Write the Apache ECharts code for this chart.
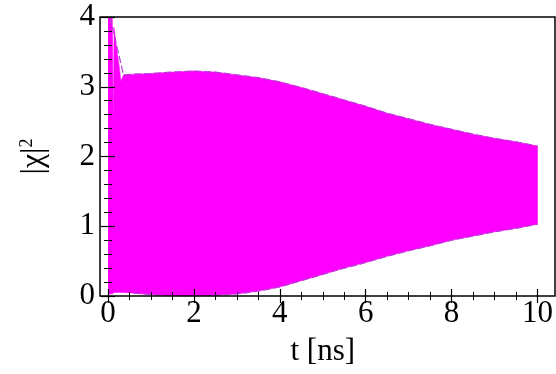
<!DOCTYPE html>
<html>
<head>
<meta charset="utf-8">
<script src="https://cdn.jsdelivr.net/npm/echarts@6/dist/echarts.min.js"></script>
<style>
  html, body { margin: 0; padding: 0; background: #fff; }
  #chart { width: 556px; height: 374px; }
</style>
</head>
<body>
<div id="chart"></div>
<script>
// envelope of the fast oscillation
const time = [0, 0.1, 0.125, 0.14, 0.2, 0.26, 0.3, 0.36, 0.6, 1.0, 1.5, 2.0, 2.5, 3.0, 3.5, 4.0, 4.5, 5.0, 5.5, 6.0, 6.5, 7.0, 7.5, 8.0, 8.5, 9.0, 9.5, 10];
const upper = [4.0, 4.0, 2.45, 3.85, 3.55, 3.3, 3.08, 3.17, 3.18, 3.19, 3.21, 3.225, 3.21, 3.17, 3.13, 3.07, 2.99, 2.9, 2.81, 2.72, 2.62, 2.54, 2.46, 2.39, 2.32, 2.26, 2.21, 2.15];
const lower = [0.03, 0.03, 0.04, 0.05, 0.05, 0.05, 0.05, 0.05, 0.04, 0.02, 0.0, 0.0, 0.01, 0.03, 0.07, 0.13, 0.22, 0.31, 0.4, 0.48, 0.57, 0.65, 0.72, 0.8, 0.86, 0.92, 0.97, 1.03];

// early dashed segment of the upper envelope
const dashTime = [0.05, 0.36];
const dashTop = [4.0, 3.17];

const xTicks = [0, 2, 4, 6, 8, 10];
const yTicks = [0, 1, 2, 3, 4];

const serif = "'Liberation Serif', 'Times New Roman', serif";
const bandColor = "#ff00ff";
const edgeColor = "#b83cd6";

const chart = echarts.init(document.getElementById("chart"));

const bandData = time.map((t, i) => [t, lower[i], upper[i]]);
const topEdge = dashTime.map((t, i) => [t, dashTop[i]])
  .concat(time.slice(8).map((t, i) => [t, upper[i + 8]]));
const bottomEdge = time.slice(8).map((t, i) => [t, lower[i + 8]]);

// the band is one polygon: upper envelope forward, lower envelope back
function renderBand(params, api) {
  if (params.dataIndex !== 0) return null;
  const pts = [];
  for (let i = 0; i < time.length; i++) pts.push(api.coord([time[i], upper[i]]));
  for (let i = time.length - 1; i >= 0; i--) pts.push(api.coord([time[i], lower[i]]));
  return {
    type: "polygon",
    shape: { points: pts },
    style: { fill: bandColor, stroke: bandColor, lineWidth: 0.5 },
  };
}

const tickCommon = {
  axisTick: { show: true, inside: true, length: 7, lineStyle: { color: "#000", width: 1.2 } },
  minorTick: { show: true, length: 4, lineStyle: { color: "#000", width: 1 } },
  axisLine: { show: false },
  splitLine: { show: false },
  z: 3,
};

const option = {
  animation: false,
  backgroundColor: "#fff",
  grid: [
    { left: 108, right: 10, top: 17, bottom: 78 },
    {
      left: 100, right: 1, top: 17, bottom: 78,
      show: true, borderColor: "#000", borderWidth: 1.5,
      backgroundColor: "transparent", z: 5,
    },
  ],
  xAxis: [
    {
      ...tickCommon,
      type: "value", gridIndex: 0, position: "bottom",
      min: xTicks[0], max: xTicks[xTicks.length - 1], interval: 2,
      minorTick: { ...tickCommon.minorTick, splitNumber: 4 },
      axisLabel: {
        color: "#000", fontFamily: serif, fontSize: 31, margin: 2,
      },
      name: "t [ns]",
      nameLocation: "middle",
      nameGap: 40,
      nameTextStyle: { color: "#000", fontFamily: serif, fontSize: 31 },
    },
    {
      ...tickCommon,
      type: "value", gridIndex: 0, position: "top",
      min: xTicks[0], max: xTicks[xTicks.length - 1], interval: 2,
      minorTick: { ...tickCommon.minorTick, splitNumber: 4 },
      axisLabel: { show: false },
    },
    { type: "value", gridIndex: 1, show: false, min: 0, max: 1 },
  ],
  yAxis: [
    {
      ...tickCommon,
      type: "value", gridIndex: 0, position: "left", offset: 8,
      min: yTicks[0], max: yTicks[yTicks.length - 1], interval: 1,
      minorTick: { ...tickCommon.minorTick, splitNumber: 5 },
      axisLabel: {
        color: "#000", fontFamily: serif, fontSize: 31, margin: 5,
      },
      name: "{a||χ|}{b|2}",
      nameLocation: "middle",
      nameRotate: 90,
      nameGap: 50,
      nameTextStyle: {
        color: "#000", fontFamily: serif,
        rich: {
          a: { fontFamily: serif, fontSize: 32, color: "#000" },
          b: { fontFamily: serif, fontSize: 18, color: "#000", verticalAlign: "top" },
        },
      },
    },
    {
      ...tickCommon,
      type: "value", gridIndex: 0, position: "right", offset: 9,
      min: yTicks[0], max: yTicks[yTicks.length - 1], interval: 1,
      minorTick: { ...tickCommon.minorTick, splitNumber: 5 },
      axisLabel: { show: false },
    },
    { type: "value", gridIndex: 1, show: false, min: 0, max: 1 },
  ],
  series: [
    {
      name: "band",
      type: "custom",
      renderItem: renderBand,
      data: bandData,
      encode: { x: 0, y: [1, 2] },
      clip: true,
      silent: true,
    },
    {
      name: "top edge",
      type: "line",
      data: topEdge,
      symbol: "none",
      lineStyle: { color: edgeColor, width: 1.2, type: [7, 3] },
      silent: true,
    },
    {
      name: "bottom edge",
      type: "line",
      data: bottomEdge,
      symbol: "none",
      lineStyle: { color: edgeColor, width: 1.2, type: [7, 3] },
      silent: true,
    },
  ],
};

chart.setOption(option);
</script>
</body>
</html>
